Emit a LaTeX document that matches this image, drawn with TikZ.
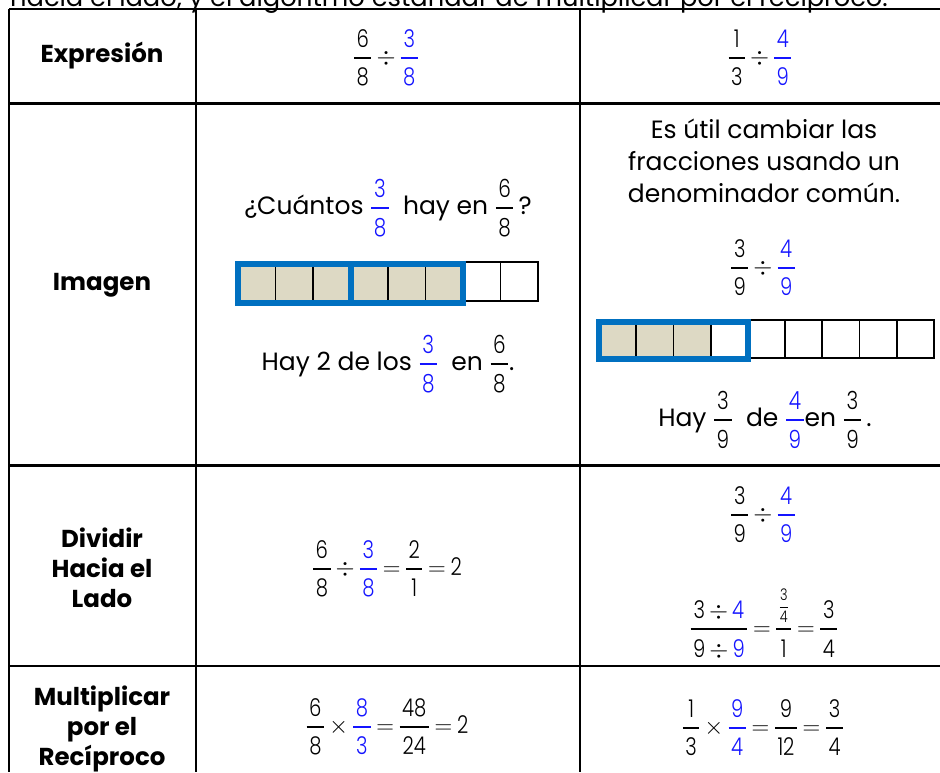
\documentclass[tikz,border=0pt]{standalone}
\usepackage{fix-cm}
\usepackage{amsmath}
\usepackage{fontspec}
\setmainfont{Poppins}
\newfontfamily\numfont[FakeStretch=0.8]{Poppins Light}
\definecolor{blau}{RGB}{20,20,255}
\definecolor{rahmen}{RGB}{0,112,192}
\definecolor{beige}{RGB}{221,217,196}
\newcommand{\bruch}[3][black]{{\color{#1}\genfrac{}{}{2pt}{0}{\mbox{\numfont\kern2.5pt #2\kern2.5pt}}{\mbox{\numfont\rule{0pt}{0.84em}\kern2.5pt #3\kern2.5pt}}}}
\newcommand{\zahl}[1]{\mbox{\numfont #1}}
\medmuskip=3mu
\thickmuskip=3.5mu
\nulldelimiterspace=1pt
\begin{document}
\begin{tikzpicture}[x=1pt,y=-1pt,
  gitter/.style={line width=2pt},
  kasten/.style={draw,line width=1.8pt},
  rahmenlinie/.style={draw=rahmen,line width=6pt},
  kopf/.style={font=\fontsize{24.5}{30}\selectfont\bfseries,align=center},
  txt/.style={font=\fontsize{25}{32}\selectfont,align=center},
  formel/.style={font=\fontsize{24.5}{28}\selectfont}]
\useasboundingbox (0,0) rectangle (940,772);
\def \b {37.5};
\def \c {37.2};
% Ueberschrift (oben abgeschnitten)
\node[font=\fontsize{25.7}{30}\selectfont,anchor=base west,inner sep=0] (titel) at (10,6)
  {hacia el lado, y el algoritmo estándar de multiplicar por el recíproco.};
% Tabelle
\draw[gitter] (9,9) -- (940,9);
\draw[line width=3pt] (9,103) -- (940,103);
\draw[line width=3pt] (9,465) -- (940,465);
\draw[line width=1.5pt] (9,666) -- (940,666);
\foreach \x in {9,196,580}
\draw[gitter] (\x,9) -- (\x,772);

% Zeile 1
\node[kopf] (expr) at (102,56) {Expresión};
\node[formel] (expr-a) at (386,58) {$\bruch{6}{8}\div\bruch[blau]{3}{8}$};
\node[formel] (expr-b) at (760,58) {$\bruch{1}{3}\div\bruch[blau]{4}{9}$};

% Zeile 2
\node[kopf] (bild) at (102,285) {Imagen};
\node[txt] (frage) at (388,208) {¿Cuántos $\bruch[blau]{3}{8}$~ hay en $\bruch{6}{8}$\,?};
\fill[beige] (238,264) rectangle (463,303);
\foreach \i in {0,...,7}
\draw[kasten] ({238+\i*\b},262) rectangle ++(\b,39);
\draw[rahmenlinie] (238,264) rectangle (350.5,303);
\draw[rahmenlinie] (350.5,264) rectangle (463,303);
\node[txt] (antwort-a) at (388,364) {Hay 2 de los $\bruch[blau]{3}{8}$~ en $\bruch{6}{8}$.};

\node[txt,anchor=base] (hinweis) at (764,202) {Es útil cambiar las\\fracciones usando un\\denominador común.};
\node[formel] (gleich-b) at (763,268) {$\bruch{3}{9}\div\bruch[blau]{4}{9}$};
\fill[beige] (599,322) rectangle (711,359);
\foreach \i in {0,...,8}
\draw[kasten] ({599+\i*\c},320) rectangle ++(\c,38);
\draw[rahmenlinie] (599,322) rectangle (748,359);
\node[txt] (antwort-b) at (765,420) {Hay $\bruch{3}{9}$~ de $\bruch[blau]{4}{9}$en $\bruch{3}{9}$\,.};

% Zeile 3
\node[kopf,anchor=base] (seite) at (102,607) {Dividir\\Hacia el\\Lado};
\node[formel] (seite-a) at (387,569) {$\bruch{6}{8}\div\bruch[blau]{3}{8}=\bruch{2}{1}=\zahl{2}$};
\node[formel] (seite-b1) at (763,515) {$\bruch{3}{9}\div\bruch[blau]{4}{9}$};
\node[formel] (seite-b2) at (764,624)
  {$\bruch{3$\,\div\,${\color{blau}4}}{9$\,\div\,${\color{blau}9}}
  =\bruch{\fontsize{16}{16}\selectfont$\genfrac{}{}{0.8pt}{0}{\zahl{3}}{\zahl{4}}$}{1}=\bruch{3}{4}$};

% Zeile 4
\node[kopf,anchor=base] (kehrwert) at (102,765) {Multiplicar\\por el\\Recíproco};
\node[formel] (kehr-a) at (387,727) {$\bruch{6}{8}\times\bruch[blau]{8}{3}=\bruch{48}{24}=\zahl{2}$};
\node[formel] (kehr-b) at (763,728) {$\bruch{1}{3}\times\bruch[blau]{9}{4}=\bruch{9}{12}=\bruch{3}{4}$};
\end{tikzpicture}
\end{document}
